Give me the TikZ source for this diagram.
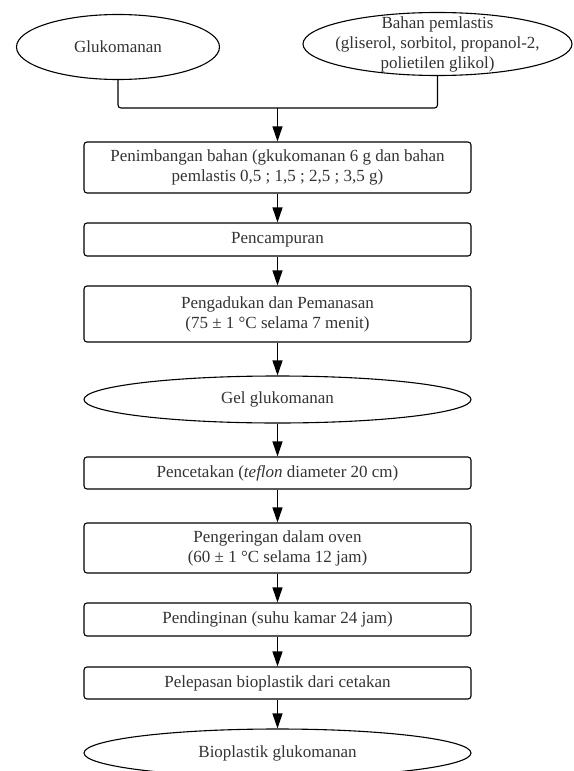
\documentclass[tikz,border=0pt]{standalone}
\usepackage{fontspec}
\setmainfont{Liberation Serif}
\usetikzlibrary{shapes.geometric,arrows.meta}

\tikzset{
  langkah/.style={draw, line width=1.1pt, rounded corners=3pt, minimum width=387pt,
    align=center, text=black!80, font=\fontsize{17}{20}\selectfont},
  bahan/.style={draw, ellipse, line width=1.1pt, inner xsep=-40pt, inner ysep=-16pt,
    align=center, text=black!80, font=\fontsize{17}{20}\selectfont},
  alur/.style={->, line width=1.1pt}
}

\begin{document}
\begin{tikzpicture}[x=1pt, y=-1pt, >={Triangle[length=15pt, width=10pt]}]
    \useasboundingbox (0, 0) rectangle (573, 771);
    % bahan awal
    \node[bahan, minimum width=203pt, minimum height=65pt] (gluko) at (118, 47) {Glukomanan};
    \node[bahan, minimum width=269pt, minimum height=63pt] (pemlastis) at (437.5, 44)
      {Bahan pemlastis\\(gliserol, sorbitol, propanol-2,\\polietilen glikol)};
    \coordinate (gabung) at (277.5, 108);
    \draw[line width=1.1pt, rounded corners=3pt] (gluko.south) |- (gabung) -| (pemlastis.south);
    % tahapan proses
    \node[langkah, minimum height=51pt] (timbang) at (277.5, 167.5)
      {Penimbangan bahan (gkukomanan 6 g dan bahan\\pemlastis 0,5 ; 1,5 ; 2,5 ; 3,5 g)};
    \node[langkah, minimum height=33pt] (campur) at (277.5, 239.5) {Pencampuran};
    \node[langkah, minimum height=56pt] (aduk) at (277.5, 314)
      {Pengadukan dan Pemanasan\\(75 ± 1 °C selama 7 menit)};
    \node[bahan, minimum width=387pt, minimum height=47pt] (gel) at (277.5, 399.5) {Gel glukomanan};
    \node[langkah, minimum height=32pt] (cetak) at (277.5, 473)
      {Pencetakan (\textit{teflon} diameter 20 cm)};
    \node[langkah, minimum height=50pt] (kering) at (277.5, 548)
      {Pengeringan dalam oven\\(60 ± 1 °C selama 12 jam)};
    \node[langkah, minimum height=33pt] (dingin) at (277.5, 619.5) {Pendinginan (suhu kamar 24 jam)};
    \node[langkah, minimum height=32pt] (lepas) at (277.5, 683) {Pelepasan bioplastik dari cetakan};
    \node[bahan, minimum width=387pt, minimum height=48pt] (bioplastik) at (277.5, 753) {Bioplastik glukomanan};
    \draw[alur] (gabung) -- (timbang);
    \foreach \a/\b in {timbang/campur, campur/aduk, aduk/gel, gel/cetak,
                       cetak/kering, kering/dingin, dingin/lepas, lepas/bioplastik}
      \draw[alur] (\a) -- (\b);
  \end{tikzpicture}
\end{document}
